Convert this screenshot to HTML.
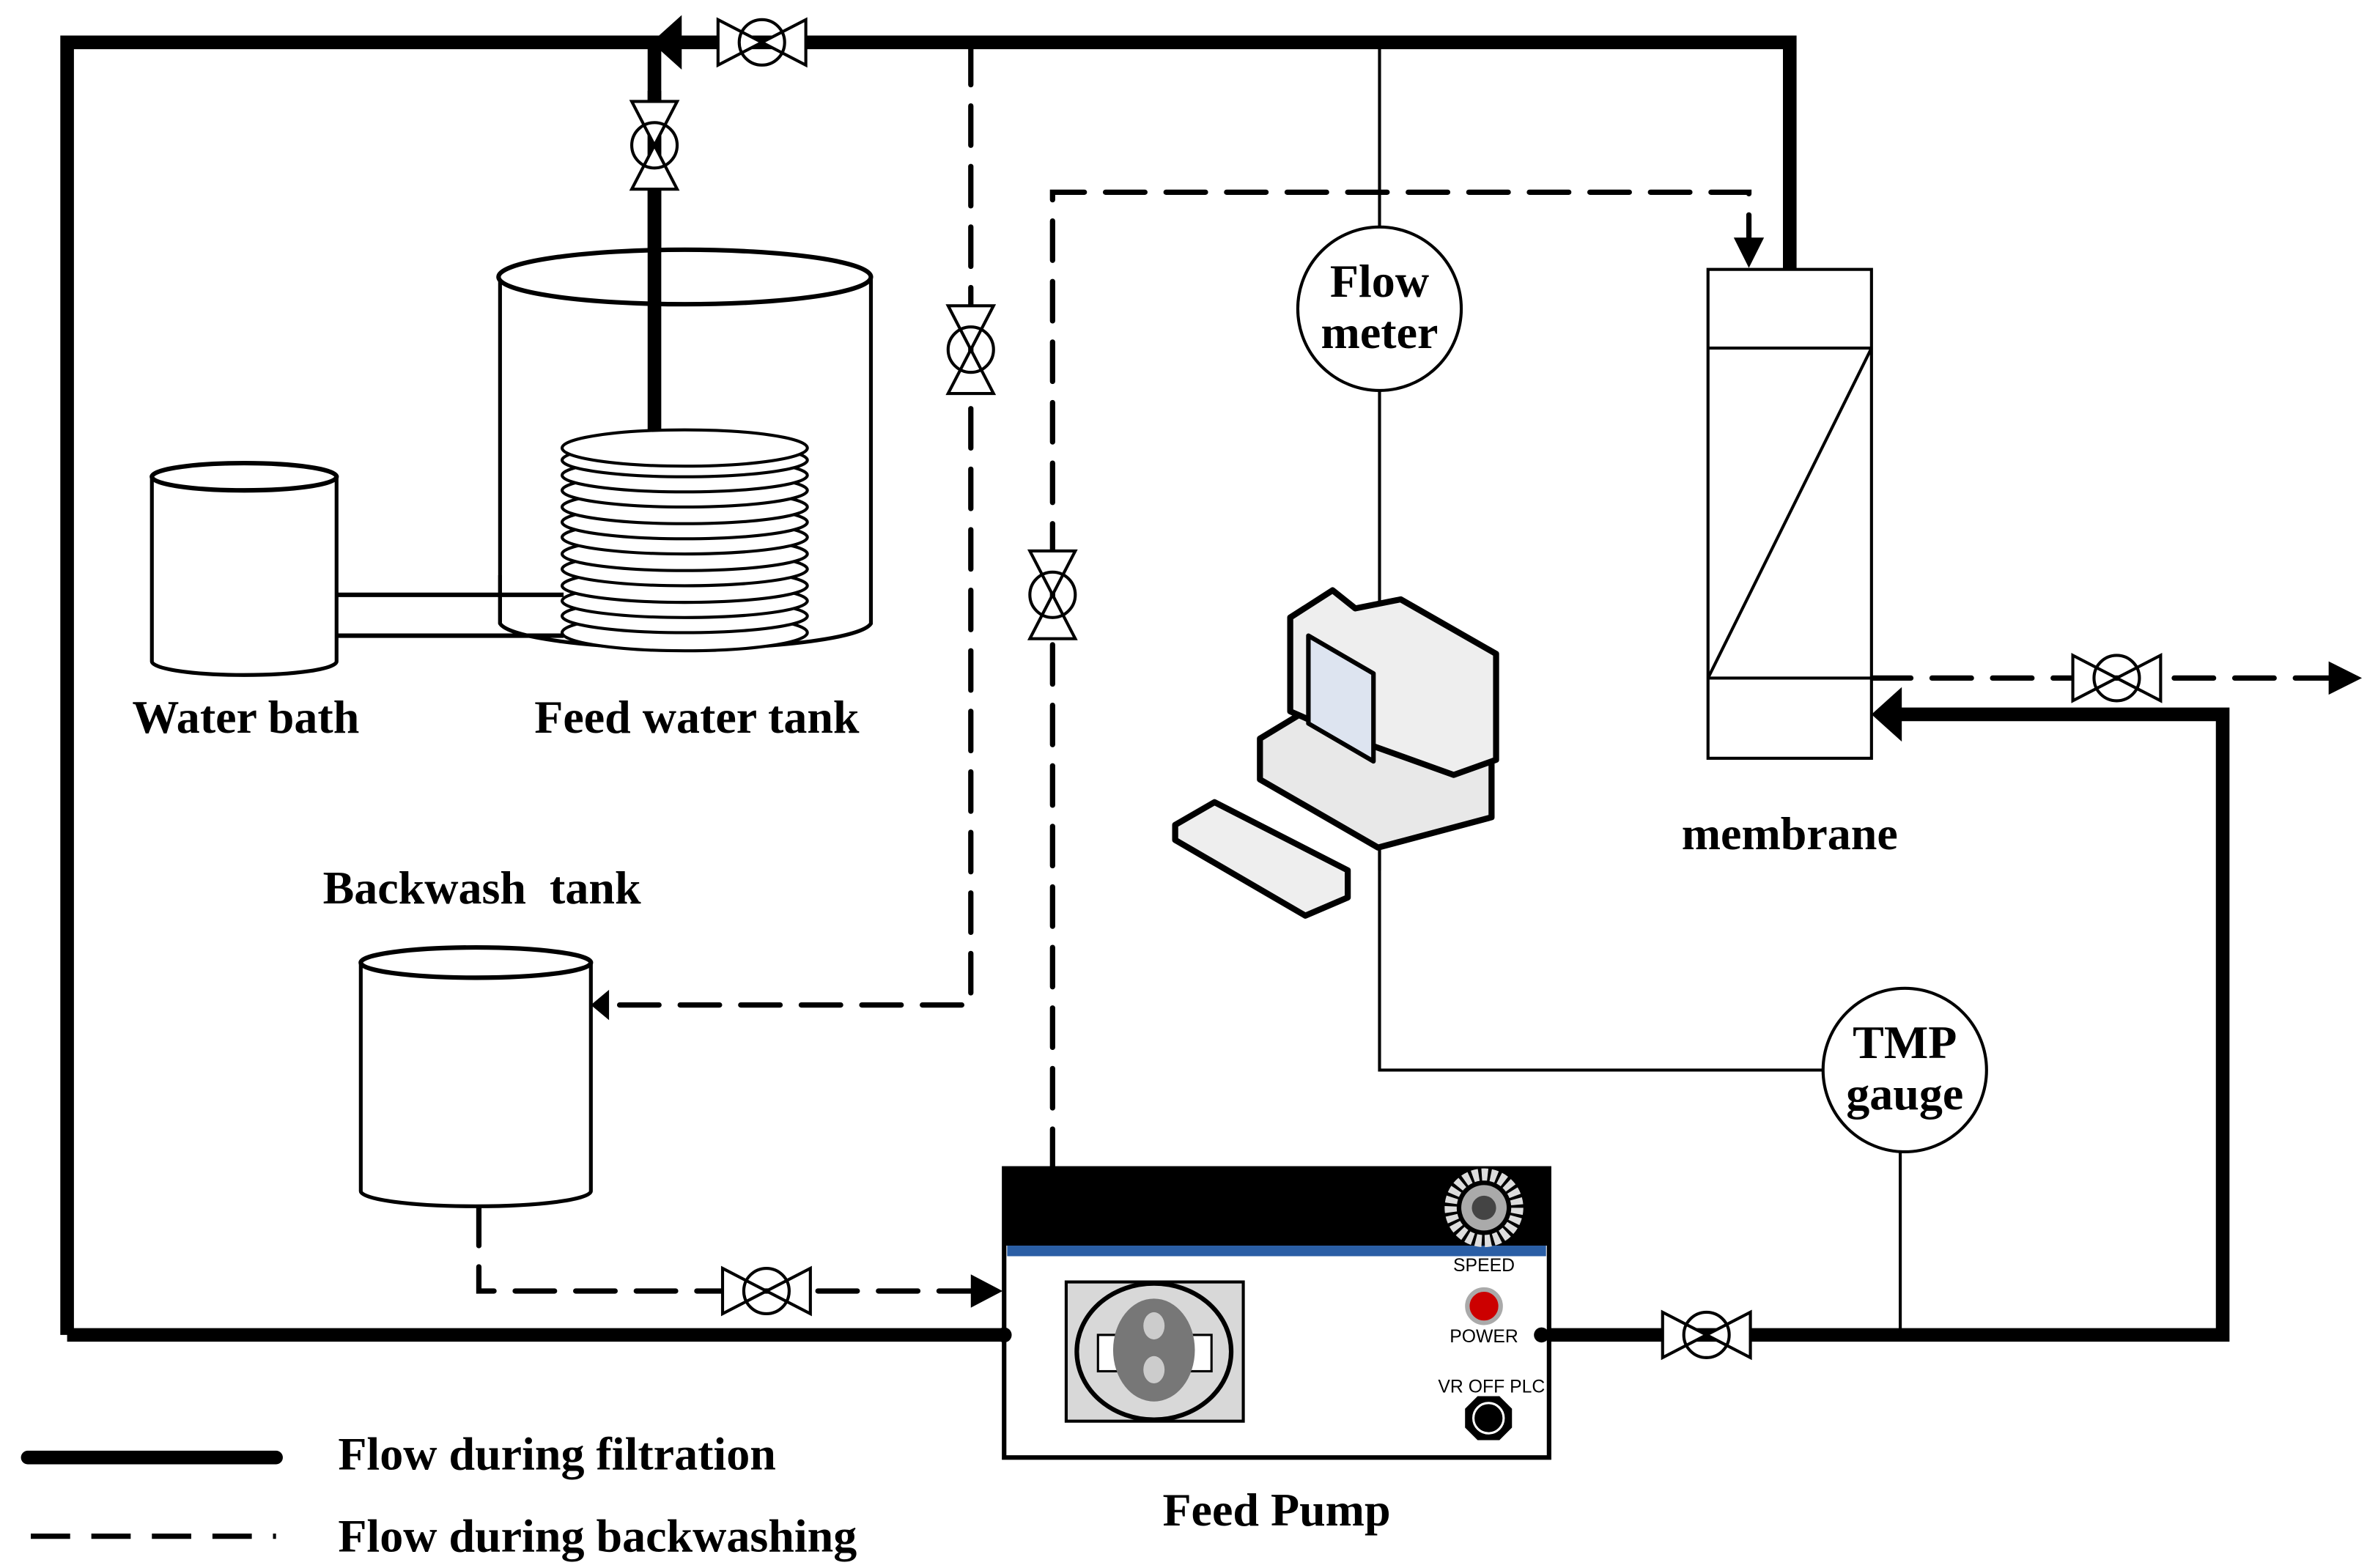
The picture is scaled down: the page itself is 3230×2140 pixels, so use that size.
<!DOCTYPE html>
<html><head><meta charset="utf-8"><style>html,body{margin:0;padding:0;background:#fff}svg{display:block}</style></head>
<body>
<svg width="3230" height="2140" viewBox="0 0 1563 1036" xmlns="http://www.w3.org/2000/svg" font-family="Liberation Serif, serif" font-weight="bold">
<defs>
<g id="vh"><polygon points="-29,-15 29,15 29,-15 -29,15" fill="#fff" stroke="#000" stroke-width="2"/><circle r="15" fill="none" stroke="#000" stroke-width="2"/></g>
<g id="vv"><polygon points="-15,-29 15,29 -15,29 15,-29" fill="#fff" stroke="#000" stroke-width="2"/><circle r="15" fill="none" stroke="#000" stroke-width="2"/></g>
</defs>
<rect width="1563" height="1036" fill="#fff"/>
<g stroke="#000" stroke-width="9" fill="none">
<polyline points="44,882 44,28 1182,28 1182,178"/>
<line x1="44" y1="882" x2="663" y2="882"/>
<line x1="432" y1="28" x2="432" y2="285"/>
<polyline points="1018,882 1468,882 1468,472 1250,472"/>
</g>
<polygon points="430,28 450,10 450,46" fill="#000"/>
<polygon points="1236,472 1256,454 1256,490" fill="#000"/>
<use href="#vh" x="503" y="28"/>
<use href="#vh" x="1127" y="882"/>
<g stroke="#000" stroke-width="2" fill="none">
<line x1="911" y1="28" x2="911" y2="150"/>
<line x1="911" y1="258" x2="911" y2="400"/>
<polyline points="911,560 911,707 1204,707"/>
<line x1="1255" y1="760" x2="1255" y2="882"/>
<circle cx="911" cy="204" r="54"/>
<circle cx="1258" cy="707" r="54"/>
</g>
<g stroke="#000" stroke-width="3.5" fill="none" stroke-dasharray="26,14" stroke-linecap="round">
<polyline points="641,30 641,664 402,664"/>
<polyline points="695,772 695,127 1155,127 1155,160"/>
<line x1="1236" y1="448" x2="1540" y2="448"/>
<polyline points="316,797 316,853 645,853"/>
</g>
<polygon points="390,664 402,654 402,674" fill="#000"/>
<polygon points="1155,177 1145,157 1165,157" fill="#000"/>
<polygon points="1560,448 1538,437 1538,459" fill="#000"/>
<polygon points="662,853 641,842 641,864" fill="#000"/>
<use href="#vv" x="641" y="231"/>
<use href="#vv" x="695" y="393"/>
<use href="#vh" x="1398" y="448"/>
<use href="#vh" x="506" y="853"/>
<g stroke="#000" stroke-width="2" fill="#fff">
<rect x="1128" y="178" width="108" height="323"/>
<line x1="1128" y1="230" x2="1236" y2="230"/>
<line x1="1128" y1="448" x2="1236" y2="448"/>
<line x1="1128" y1="448" x2="1236" y2="230"/>
</g>
<g stroke="#000" fill="#fff">
<path d="M330,183 L330,412 A123,18 0 0 0 575,412 L575,183" stroke-width="2.5"/>
<ellipse cx="452" cy="183" rx="123" ry="18" stroke-width="3" fill="#fff"/>
</g>
<line x1="432" y1="60" x2="432" y2="285" stroke="#000" stroke-width="9"/>
<use href="#vv" x="432" y="96"/>
<g stroke="#000" stroke-width="3"><line x1="222" y1="393" x2="372" y2="393"/><line x1="222" y1="420" x2="372" y2="420"/></g>
<line x1="330" y1="380" x2="330" y2="412" stroke="#000" stroke-width="2.5"/>
<g stroke="#000" stroke-width="2" fill="#fff">
<ellipse cx="452" cy="418" rx="81" ry="12"/>
<ellipse cx="452" cy="407" rx="81" ry="11"/>
<ellipse cx="452" cy="397" rx="81" ry="11"/>
<ellipse cx="452" cy="387" rx="81" ry="11"/>
<ellipse cx="452" cy="376" rx="81" ry="11"/>
<ellipse cx="452" cy="366" rx="81" ry="11"/>
<ellipse cx="452" cy="355" rx="81" ry="11"/>
<ellipse cx="452" cy="345" rx="81" ry="11"/>
<ellipse cx="452" cy="335" rx="81" ry="11"/>
<ellipse cx="452" cy="324" rx="81" ry="11"/>
<ellipse cx="452" cy="314" rx="81" ry="11"/>
<ellipse cx="452" cy="304" rx="81" ry="11"/>
<ellipse cx="452" cy="296" rx="81" ry="12"/>
</g>
<g stroke="#000" fill="#fff">
<path d="M100,315 L100,437 A61,9 0 0 0 222,437 L222,315" stroke-width="2.5"/>
<ellipse cx="161" cy="315" rx="61" ry="9" stroke-width="3"/>
</g>
<g stroke="#000" fill="#fff">
<path d="M238,636 L238,787 A76,10 0 0 0 390,787 L390,636" stroke-width="2.5"/>
<ellipse cx="314" cy="636" rx="76" ry="10" stroke-width="3"/>
</g>
<rect x="663" y="772" width="360" height="191" fill="#fff" stroke="#000" stroke-width="3"/>
<rect x="663" y="772" width="360" height="51" fill="#000"/>
<rect x="665" y="823" width="356" height="7" fill="#2a5ea5"/>
<circle cx="980" cy="798" r="22" fill="none" stroke="#ddd" stroke-width="8" stroke-dasharray="4,2"/>
<circle cx="980" cy="798" r="15" fill="#aaa"/>
<circle cx="980" cy="798" r="8" fill="#444"/>
<rect x="704" y="847" width="117" height="92" fill="#d8d8d8" stroke="#000" stroke-width="2"/>
<ellipse cx="762" cy="893" rx="51" ry="45" fill="#d8d8d8" stroke="#000" stroke-width="3"/>
<rect x="725" y="882" width="75" height="24" fill="#fff" stroke="#000" stroke-width="1.5"/>
<ellipse cx="762" cy="892" rx="27" ry="34" fill="#777"/>
<ellipse cx="762" cy="876" rx="7" ry="9" fill="#ccc"/>
<ellipse cx="762" cy="905" rx="7" ry="9" fill="#ccc"/>
<g font-family="Liberation Sans, sans-serif" font-weight="normal" font-size="12" text-anchor="middle">
<text x="980" y="840">SPEED</text>
<text x="980" y="887">POWER</text>
<text x="985" y="920">VR OFF PLC</text>
</g>
<circle cx="980" cy="863" r="11" fill="#c00" stroke="#aaa" stroke-width="3"/>
<polygon points="976,923 990,923 998,931 998,943 990,951 976,951 968,943 968,931" fill="#000" stroke="#000"/>
<circle cx="983" cy="937" r="10" fill="#000" stroke="#fff" stroke-width="1.5"/>
<circle cx="663" cy="882" r="5" fill="#000"/>
<circle cx="1018" cy="882" r="5" fill="#000"/>
<g stroke="#000" stroke-width="4" stroke-linejoin="round">
<polygon points="832,488 870,465 910,460 985,490 985,540 910,560 832,515" fill="#e8e8e8"/>
<polygon points="852,408 880,390 895,402 925,396 988,432 988,502 960,512 893,488 852,470" fill="#eee"/>
<polygon points="864,420 907,445 907,503 864,478" fill="#dde4f0" stroke-width="3"/>
<polygon points="776,545 802,530 890,575 890,593 862,605 776,555" fill="#eee"/>
</g>
<line x1="911" y1="560" x2="911" y2="575" stroke="#000" stroke-width="2"/>
<g font-size="31" text-anchor="middle">
<text x="911" y="196">Flow</text>
<text x="911" y="230">meter</text>
<text x="1258" y="699">TMP</text>
<text x="1258" y="733">gauge</text>
<text x="162" y="484">Water bath</text>
<text x="460" y="484">Feed water tank</text>
<text x="1182" y="561">membrane</text>
<text x="318" y="597">Backwash&#160; tank</text>
<text x="843" y="1008">Feed Pump</text>
</g>
<g font-size="31">
<text x="223" y="971">Flow during filtration</text>
<text x="223" y="1025">Flow during backwashing</text>
</g>
<line x1="18" y1="963" x2="182" y2="963" stroke="#000" stroke-width="9" stroke-linecap="round"/>
<line x1="20" y1="1015" x2="182" y2="1015" stroke="#000" stroke-width="3.5" stroke-dasharray="26,14"/>
</svg>
</body></html>
